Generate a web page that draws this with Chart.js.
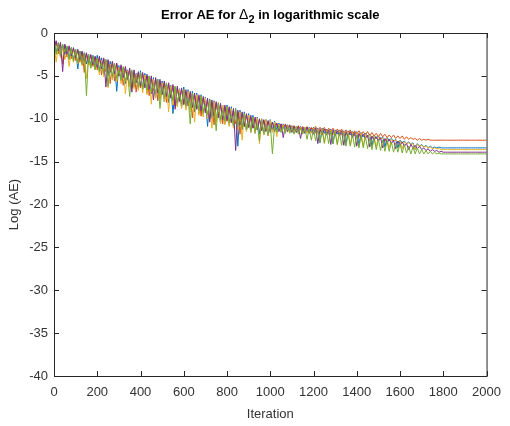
<!DOCTYPE html>
<html>
  <head>
    <meta charset="UTF-8" />
    <title>Error AE</title>
    <script src="https://cdn.jsdelivr.net/npm/chart.js@4.4.1/dist/chart.umd.min.js"></script>
    <style>
      body { margin: 0; background: #fff; }
    </style>
    <script>
      // values, one sample every 10 iterations (0..2000)
      const iterStep = 10
      const xTicks = [0, 200, 400, 600, 800, 1000, 1200, 1400, 1600, 1800, 2000]
      const yTicks = [0, -5, -10, -15, -20, -25, -30, -35, -40]
      const seriesColors = ['#0072BD', '#D95319', '#EDB120', '#7E2F8E', '#77AC30']

      const seriesBlue = [
        -0.9,-2.3,-1.2,-2.6,-1.4,-2.5,-1.6,-3.0,-1.7,-3.1,-1.9,-4.2,-2.1,-3.4,-2.3,-3.6,-2.5,-3.8,-2.6,-4.0,
        -2.6,-4.4,-2.9,-4.7,-3.1,-5.0,-3.3,-5.3,-3.6,-6.8,-3.8,-5.6,-4.1,-5.9,-4.3,-6.2,-4.5,-6.3,-4.7,-6.5,
        -4.4,-6.6,-4.7,-7.0,-5.0,-7.1,-5.2,-7.5,-5.4,-7.6,-5.6,-8.0,-5.9,-8.1,-6.1,-9.4,-6.3,-8.5,-6.5,-8.7,
        -6.3,-8.7,-6.6,-8.9,-6.8,-9.2,-7.0,-9.4,-7.2,-9.6,-7.5,-10.9,-7.7,-10.0,-7.9,-10.3,-8.2,-10.5,-8.4,-10.6,
        -8.4,-10.7,-8.6,-11.0,-8.8,-13.2,-9.0,-11.3,-9.2,-11.4,-9.4,-11.6,-9.6,-11.7,-9.8,-11.8,-10.0,-11.9,-10.1,-12.0,
        -10.1,-11.3,-10.3,-11.3,-10.5,-11.4,-10.6,-11.4,-10.7,-11.4,-10.8,-11.5,-10.9,-11.5,-10.9,-11.5,-11.0,-11.6,-11.0,-11.6,
        -11.0,-11.6,-11.1,-12.8,-11.1,-11.7,-11.2,-11.8,-11.2,-12.9,-11.3,-11.8,-11.3,-11.9,-11.4,-13.0,-11.4,-11.9,-11.5,-12.0,
        -11.5,-13.1,-11.6,-12.1,-11.7,-12.2,-11.8,-13.2,-11.9,-12.3,-12.0,-12.4,-12.1,-13.3,-12.2,-12.5,-12.3,-12.6,-12.4,-13.4,
        -12.5,-12.8,-12.6,-12.9,-12.7,-13.0,-12.8,-13.6,-12.9,-13.2,-13.0,-13.3,-13.1,-13.4,-13.2,-13.4,-13.3,-13.4,-13.3,-13.4,
        -13.4,-13.4,-13.4,-13.4,-13.4,-13.4,-13.4,-13.4,-13.4,-13.4,-13.4,-13.4,-13.4,-13.4,-13.4,-13.4,-13.4,-13.4,-13.4,-13.4,
        -13.4
      ]
      const seriesOrange = [
        -2.0,-1.0,-2.4,-1.2,-3.6,-1.4,-2.8,-1.6,-3.0,-1.8,-3.2,-2.0,-3.4,-2.2,-4.6,-2.4,-3.7,-2.6,-3.9,-2.8,
        -4.3,-2.8,-4.9,-3.0,-4.5,-3.2,-5.9,-3.4,-5.6,-3.6,-5.0,-3.9,-6.1,-4.1,-5.5,-4.3,-6.4,-4.5,-6.9,-4.7,
        -6.4,-4.8,-6.1,-5.0,-7.3,-5.2,-6.7,-5.4,-7.9,-5.6,-7.0,-5.8,-8.1,-6.0,-7.4,-6.2,-8.5,-6.4,-7.8,-6.6,
        -8.4,-6.8,-8.1,-7.0,-9.9,-7.2,-8.6,-7.4,-9.7,-7.6,-9.0,-7.8,-10.1,-8.0,-10.7,-8.2,-9.6,-8.4,-10.6,-8.6,
        -10.3,-8.8,-10.5,-9.0,-10.6,-9.2,-11.8,-9.4,-10.9,-9.6,-11.0,-9.8,-11.1,-10.0,-11.2,-10.1,-11.3,-10.2,-11.3,-10.3,
        -11.0,-10.4,-11.0,-10.5,-11.1,-10.6,-11.1,-10.6,-11.2,-10.7,-11.2,-10.8,-11.3,-10.8,-11.3,-10.9,-11.3,-10.9,-11.4,-11.0,
        -11.3,-10.9,-11.4,-11.0,-11.4,-11.0,-11.5,-11.1,-11.5,-11.1,-11.6,-11.2,-11.6,-11.2,-11.7,-11.3,-11.7,-11.3,-11.8,-11.4,
        -11.8,-11.4,-11.9,-11.5,-11.9,-11.5,-12.0,-11.6,-12.0,-11.7,-12.1,-11.7,-12.1,-11.8,-12.2,-11.9,-12.2,-11.9,-12.3,-12.0,
        -12.3,-12.0,-12.4,-12.1,-12.4,-12.2,-12.4,-12.3,-12.5,-12.3,-12.5,-12.4,-12.5,-12.4,-12.5,-12.5,-12.5,-12.5,-12.5,-12.5,
        -12.5,-12.5,-12.5,-12.5,-12.5,-12.5,-12.5,-12.5,-12.5,-12.5,-12.5,-12.5,-12.5,-12.5,-12.5,-12.5,-12.5,-12.5,-12.5,-12.5,
        -12.5
      ]
      const seriesYellow = [
        -1.3,-3.4,-1.6,-2.9,-1.8,-3.1,-2.0,-3.9,-2.2,-3.4,-2.3,-3.6,-2.5,-3.8,-2.7,-5.3,-2.9,-4.1,-3.1,-4.3,
        -3.0,-4.9,-3.2,-5.1,-3.4,-6.4,-3.6,-5.5,-3.8,-5.7,-4.0,-5.9,-4.2,-7.1,-4.4,-6.3,-4.6,-6.5,-4.8,-6.7,
        -4.7,-7.0,-4.9,-7.2,-5.1,-8.3,-5.4,-7.6,-5.6,-7.8,-5.8,-8.0,-6.0,-9.2,-6.2,-8.4,-6.4,-8.6,-6.6,-8.8,
        -6.6,-9.0,-6.8,-9.2,-7.0,-10.4,-7.2,-9.6,-7.4,-9.8,-7.6,-10.0,-7.8,-11.1,-8.0,-10.4,-8.2,-10.6,-8.4,-10.7,
        -8.6,-10.9,-8.8,-11.1,-9.0,-11.3,-9.2,-12.5,-9.4,-11.5,-9.6,-11.6,-9.8,-11.7,-9.9,-12.9,-10.0,-11.9,-10.1,-12.0,
        -10.2,-11.6,-10.4,-12.1,-10.6,-11.5,-10.7,-11.5,-10.8,-11.6,-10.9,-11.6,-10.9,-11.6,-11.0,-11.7,-11.0,-11.7,-11.1,-11.7,
        -11.1,-11.7,-11.2,-11.8,-11.2,-12.9,-11.3,-11.8,-11.3,-11.9,-11.4,-13.0,-11.4,-11.9,-11.5,-12.0,-11.5,-13.1,-11.6,-12.0,
        -11.6,-12.1,-11.7,-13.2,-11.8,-12.2,-11.9,-12.3,-12.0,-13.3,-12.1,-12.4,-12.2,-12.5,-12.3,-13.4,-12.4,-12.6,-12.5,-12.7,
        -12.6,-13.5,-12.7,-12.9,-12.8,-13.0,-12.9,-13.6,-13.0,-13.2,-13.1,-13.3,-13.2,-13.4,-13.3,-13.5,-13.4,-13.5,-13.5,-13.6,
        -13.6,-13.6,-13.6,-13.6,-13.6,-13.6,-13.6,-13.6,-13.6,-13.6,-13.6,-13.6,-13.6,-13.6,-13.6,-13.6,-13.6,-13.6,-13.6,-13.6,
        -13.6
      ]
      const seriesPurple = [
        -1.8,-0.9,-2.1,-1.1,-4.5,-1.3,-2.5,-1.5,-2.7,-1.7,-2.9,-1.9,-3.1,-2.1,-3.3,-2.3,-3.5,-2.5,-3.7,-2.7,
        -4.0,-2.7,-4.2,-2.9,-6.3,-3.1,-4.6,-3.3,-4.8,-3.5,-5.0,-3.7,-5.2,-3.9,-5.4,-4.1,-6.9,-4.3,-5.8,-4.5,
        -6.2,-4.6,-6.4,-4.8,-6.6,-5.0,-7.8,-5.2,-7.0,-5.4,-7.2,-5.6,-7.4,-5.8,-7.6,-6.0,-8.9,-6.2,-8.0,-6.4,
        -8.3,-6.6,-8.5,-6.8,-8.7,-7.0,-8.9,-7.2,-9.1,-7.4,-9.3,-7.6,-10.4,-7.8,-9.7,-8.0,-9.9,-8.2,-10.1,-8.4,
        -10.2,-8.6,-10.4,-8.8,-13.7,-9.0,-10.7,-9.2,-10.9,-9.4,-11.0,-9.6,-11.1,-9.8,-11.3,-10.0,-11.4,-10.1,-11.5,-10.2,
        -11.6,-10.4,-11.5,-10.5,-11.5,-10.6,-12.2,-10.7,-11.5,-10.8,-11.6,-10.9,-11.6,-10.9,-12.3,-11.0,-11.7,-11.0,-11.7,-11.1,
        -11.8,-11.1,-12.9,-11.2,-11.9,-11.2,-11.9,-11.3,-13.0,-11.3,-12.0,-11.4,-12.0,-11.4,-13.1,-11.5,-12.1,-11.5,-12.2,-11.6,
        -13.2,-11.7,-12.3,-11.8,-12.3,-11.9,-13.3,-12.0,-12.5,-12.1,-12.6,-12.2,-13.4,-12.3,-12.8,-12.4,-12.9,-12.5,-13.5,-12.6,
        -13.1,-12.7,-13.2,-12.9,-13.6,-13.0,-13.4,-13.1,-13.5,-13.2,-13.6,-13.4,-13.7,-13.5,-13.8,-13.6,-13.8,-13.7,-13.9,-13.8,
        -13.9,-13.9,-13.9,-13.9,-13.9,-13.9,-13.9,-13.9,-13.9,-13.9,-13.9,-13.9,-13.9,-13.9,-13.9,-13.9,-13.9,-13.9,-13.9,-13.9,
        -13.9
      ]
      const seriesGreen = [
        -0.8,-2.5,-1.1,-2.7,-1.3,-2.2,-1.5,-3.1,-1.7,-3.3,-1.9,-3.5,-2.1,-3.7,-2.3,-7.3,-2.5,-4.1,-2.7,-4.3,
        -2.9,-4.5,-3.4,-4.7,-3.1,-6.2,-3.8,-5.1,-3.5,-5.3,-4.3,-5.5,-3.9,-5.7,-4.6,-7.4,-4.3,-6.1,-5.0,-6.3,
        -4.6,-6.5,-5.4,-6.7,-5.0,-6.9,-5.9,-7.1,-5.4,-8.8,-6.2,-7.5,-5.8,-7.7,-6.7,-7.9,-6.2,-8.1,-7.0,-8.3,
        -6.6,-8.5,-7.5,-10.6,-7.0,-8.9,-7.9,-9.1,-7.3,-9.3,-8.3,-9.5,-7.8,-9.7,-8.7,-11.4,-8.1,-10.1,-9.0,-10.3,
        -8.6,-10.5,-9.5,-10.7,-8.9,-10.9,-9.9,-11.1,-9.4,-11.3,-10.3,-11.4,-9.8,-11.5,-10.6,-12.6,-10.1,-11.7,-10.8,-11.8,
        -10.6,-14.1,-10.7,-11.6,-10.8,-11.6,-10.9,-11.7,-10.9,-11.7,-11.0,-11.8,-11.0,-11.8,-11.1,-11.8,-11.1,-12.4,-11.2,-12.5,
        -11.2,-12.6,-11.3,-12.7,-11.3,-12.8,-11.4,-12.9,-11.4,-12.9,-11.5,-13.0,-11.6,-13.1,-11.6,-13.2,-11.7,-13.2,-11.8,-13.3,
        -11.9,-13.4,-12.0,-13.4,-12.1,-13.5,-12.2,-13.6,-12.3,-13.6,-12.4,-13.7,-12.5,-13.8,-12.6,-13.8,-12.7,-13.9,-12.8,-13.9,
        -12.9,-14.0,-13.0,-14.0,-13.2,-14.1,-13.3,-14.1,-13.4,-14.1,-13.6,-14.1,-13.7,-14.1,-13.8,-14.1,-13.9,-14.1,-14.0,-14.1,
        -14.1,-14.1,-14.1,-14.1,-14.1,-14.1,-14.1,-14.1,-14.1,-14.1,-14.1,-14.1,-14.1,-14.1,-14.1,-14.1,-14.1,-14.1,-14.1,-14.1,
        -14.1
      ]
      const allSeries = [seriesBlue, seriesOrange, seriesYellow, seriesPurple, seriesGreen]

      const axisColor = '#262626'
      const fontFamily = '"Liberation Sans", Arial, Helvetica, sans-serif'

      // MATLAB style box with inward ticks and a title with a subscript
      const matlabBox = {
        id: 'matlabBox',
        afterDraw (chart) {
          const ctx = chart.ctx
          const a = chart.chartArea
          const xs = chart.scales.x
          const ys = chart.scales.y
          ctx.save()
          ctx.strokeStyle = axisColor
          ctx.lineWidth = 1
          ctx.strokeRect(a.left + 0.5, a.top + 0.5, a.right - a.left, a.bottom - a.top)
          ctx.beginPath()
          xTicks.forEach(v => {
            const px = Math.round(xs.getPixelForValue(v)) + 0.5
            ctx.moveTo(px, a.bottom); ctx.lineTo(px, a.bottom - 5)
            ctx.moveTo(px, a.top); ctx.lineTo(px, a.top + 5)
          })
          yTicks.forEach(v => {
            const py = Math.round(ys.getPixelForValue(v)) + 0.5
            ctx.moveTo(a.left, py); ctx.lineTo(a.left + 5, py)
            ctx.moveTo(a.right, py); ctx.lineTo(a.right - 5, py)
          })
          ctx.stroke()

          const parts = [
            { t: 'Error AE for ', f: 'bold 13px ' + fontFamily, dy: 0 },
            { t: '\u0394', f: '14px ' + fontFamily, dy: 0 },
            { t: '2', f: 'bold 11px ' + fontFamily, dy: 4 },
            { t: ' in logarithmic scale', f: 'bold 13px ' + fontFamily, dy: 0 }
          ]
          let total = 0
          parts.forEach(p => { ctx.font = p.f; p.w = ctx.measureText(p.t).width; total += p.w })
          let x = (a.left + a.right) / 2 - total / 2
          ctx.fillStyle = '#000'
          ctx.textBaseline = 'alphabetic'
          parts.forEach(p => {
            ctx.font = p.f
            ctx.fillText(p.t, x, 19 + p.dy)
            x += p.w
          })
          ctx.restore()
        }
      }

      const draw = function () {
        const context = document.querySelector('#chart').getContext('2d')
        const datasets = allSeries.map((values, i) => ({
          data: values.map((v, k) => ({ x: k * iterStep, y: v })),
          borderColor: seriesColors[i],
          borderWidth: 1,
          pointRadius: 0,
          tension: 0,
          order: allSeries.length - 1 - i
        }))
        window.chart = new Chart(context, {
          type: 'line',
          data: { datasets: datasets },
          options: {
            responsive: false,
            animation: false,
            layout: { padding: { top: 33, right: 18, left: 0, bottom: 0 } },
            plugins: { legend: { display: false }, tooltip: { enabled: false } },
            scales: {
              x: {
                type: 'linear',
                min: 0,
                max: 2000,
                afterFit: s => { s.height = 50 },
                afterBuildTicks: s => { s.ticks = xTicks.map(v => ({ value: v })) },
                grid: { display: false, drawTicks: false },
                border: { display: false },
                ticks: { padding: 9, color: '#333', font: { family: fontFamily, size: 13 }, maxRotation: 0, callback: v => String(v) },
                title: { display: true, text: 'Iteration', color: '#333', font: { family: fontFamily, size: 13 }, padding: { top: 3 } }
              },
              y: {
                type: 'linear',
                min: -40,
                max: 0,
                afterFit: s => { s.width = 54 },
                afterBuildTicks: s => { s.ticks = yTicks.map(v => ({ value: v })) },
                grid: { display: false, drawTicks: false },
                border: { display: false },
                ticks: { padding: 6, color: '#333', font: { family: fontFamily, size: 13 }, callback: v => String(v) },
                title: { display: true, text: 'Log (AE)', color: '#333', font: { family: fontFamily, size: 13 }, padding: { top: 7, bottom: 0 } }
              }
            }
          },
          plugins: [matlabBox]
        })
      }
      window.onload = function () {
        draw()
      }
    </script>
  </head>
  <body>
    <canvas id="chart" width="510" height="426"></canvas>
  </body>
</html>
